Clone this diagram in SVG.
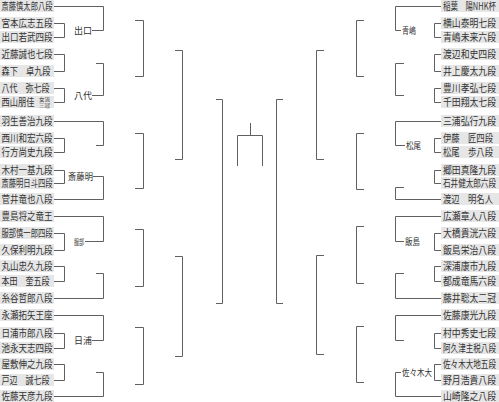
<svg xmlns="http://www.w3.org/2000/svg" width="499" height="402" viewBox="0 0 499 402">
<style>
.bx{fill:#e6e6e6}
.nm{font-family:"Noto Sans CJK JP","Noto Sans",sans-serif;font-size:10px;fill:#333}
.lb{font-family:"Noto Sans CJK JP","Noto Sans",sans-serif;font-size:9px;fill:#333}
.sm{font-family:"Noto Sans CJK JP",sans-serif;font-size:5px;fill:#333}
.cn path{fill:none;stroke:#606060;stroke-width:1}
</style>
<rect width="499" height="402" fill="#fff"/>
<g id="left-names">
<g id="L0"><rect class="bx" x="0" y="0" width="54" height="12"/><text class="nm" x="1.5" y="9.7" textLength="51" lengthAdjust="spacingAndGlyphs">斎藤慎太郎八段</text></g>
<g id="L1"><rect class="bx" x="0" y="17" width="54" height="12"/><text class="nm" x="1.5" y="26.7" textLength="51" lengthAdjust="spacingAndGlyphs">宮本広志五段</text></g>
<g id="L2"><rect class="bx" x="0" y="31" width="54" height="12"/><text class="nm" x="1.5" y="40.7" textLength="51" lengthAdjust="spacingAndGlyphs">出口若武四段</text></g>
<g id="L3"><rect class="bx" x="0" y="48" width="54" height="12"/><text class="nm" x="1.5" y="57.7" textLength="51" lengthAdjust="spacingAndGlyphs">近藤誠也七段</text></g>
<g id="L4"><rect class="bx" x="0" y="65" width="54" height="12"/><text class="nm" x="1.5" y="74.7" textLength="49" lengthAdjust="spacingAndGlyphs">森下　卓九段</text></g>
<g id="L5"><rect class="bx" x="0" y="82" width="54" height="12"/><text class="nm" x="1.5" y="91.7" textLength="48" lengthAdjust="spacingAndGlyphs">八代　弥七段</text></g>
<g id="L6"><rect class="bx" x="0" y="96" width="54" height="12"/><text class="nm" x="1.5" y="105.7" textLength="33" lengthAdjust="spacingAndGlyphs">西山朋佳</text><text class="sm" x="39" y="101.3" textLength="11" lengthAdjust="spacingAndGlyphs">女流</text><text class="sm" x="39" y="107.3" textLength="11" lengthAdjust="spacingAndGlyphs">三冠</text></g>
<g id="L7"><rect class="bx" x="0" y="115" width="54" height="12"/><text class="nm" x="1.5" y="124.7" textLength="51" lengthAdjust="spacingAndGlyphs">羽生善治九段</text></g>
<g id="L8"><rect class="bx" x="0" y="132" width="54" height="12"/><text class="nm" x="1.5" y="141.7" textLength="51" lengthAdjust="spacingAndGlyphs">西川和宏六段</text></g>
<g id="L9"><rect class="bx" x="0" y="146" width="54" height="12"/><text class="nm" x="1.5" y="155.7" textLength="51" lengthAdjust="spacingAndGlyphs">行方尚史九段</text></g>
<g id="L10"><rect class="bx" x="0" y="164" width="54" height="12"/><text class="nm" x="1.5" y="173.7" textLength="51" lengthAdjust="spacingAndGlyphs">木村一基九段</text></g>
<g id="L11"><rect class="bx" x="0" y="177" width="54" height="12"/><text class="nm" x="1.5" y="186.7" textLength="51" lengthAdjust="spacingAndGlyphs">斎藤明日斗四段</text></g>
<g id="L12"><rect class="bx" x="0" y="193" width="54" height="12"/><text class="nm" x="1.5" y="202.7" textLength="51" lengthAdjust="spacingAndGlyphs">菅井竜也八段</text></g>
<g id="L13"><rect class="bx" x="0" y="210" width="54" height="12"/><text class="nm" x="1.5" y="219.7" textLength="51" lengthAdjust="spacingAndGlyphs">豊島将之竜王</text></g>
<g id="L14"><rect class="bx" x="0" y="227" width="54" height="12"/><text class="nm" x="1.5" y="236.7" textLength="51" lengthAdjust="spacingAndGlyphs">服部慎一郎四段</text></g>
<g id="L15"><rect class="bx" x="0" y="244" width="54" height="12"/><text class="nm" x="1.5" y="253.7" textLength="51" lengthAdjust="spacingAndGlyphs">久保利明九段</text></g>
<g id="L16"><rect class="bx" x="0" y="260" width="54" height="12"/><text class="nm" x="1.5" y="269.7" textLength="51" lengthAdjust="spacingAndGlyphs">丸山忠久九段</text></g>
<g id="L17"><rect class="bx" x="0" y="275" width="54" height="12"/><text class="nm" x="1.5" y="284.7" textLength="48" lengthAdjust="spacingAndGlyphs">本田　奎五段</text></g>
<g id="L18"><rect class="bx" x="0" y="292" width="54" height="12"/><text class="nm" x="1.5" y="301.7" textLength="51" lengthAdjust="spacingAndGlyphs">糸谷哲郎八段</text></g>
<g id="L19"><rect class="bx" x="0" y="309" width="54" height="12"/><text class="nm" x="1.5" y="318.7" textLength="51" lengthAdjust="spacingAndGlyphs">永瀬拓矢王座</text></g>
<g id="L20"><rect class="bx" x="0" y="327" width="54" height="12"/><text class="nm" x="1.5" y="336.7" textLength="51" lengthAdjust="spacingAndGlyphs">日浦市郎八段</text></g>
<g id="L21"><rect class="bx" x="0" y="342" width="54" height="12"/><text class="nm" x="1.5" y="351.7" textLength="51" lengthAdjust="spacingAndGlyphs">池永天志四段</text></g>
<g id="L22"><rect class="bx" x="0" y="358" width="54" height="12"/><text class="nm" x="1.5" y="367.7" textLength="51" lengthAdjust="spacingAndGlyphs">屋敷伸之九段</text></g>
<g id="L23"><rect class="bx" x="0" y="374" width="54" height="12"/><text class="nm" x="1.5" y="383.7" textLength="48" lengthAdjust="spacingAndGlyphs">戸辺　誠七段</text></g>
<g id="L24"><rect class="bx" x="0" y="390" width="54" height="12"/><text class="nm" x="1.5" y="399.5" textLength="51" lengthAdjust="spacingAndGlyphs">佐藤天彦九段</text></g>
</g>
<g id="right-names">
<g id="R0"><rect class="bx" x="441" y="0" width="58" height="12"/><text class="nm" x="443" y="9.7" textLength="53" lengthAdjust="spacingAndGlyphs">稲葉　陽NHK杯</text></g>
<g id="R1"><rect class="bx" x="441" y="17" width="58" height="12"/><text class="nm" x="443" y="26.7" textLength="53" lengthAdjust="spacingAndGlyphs">横山泰明七段</text></g>
<g id="R2"><rect class="bx" x="441" y="31" width="58" height="12"/><text class="nm" x="443" y="40.7" textLength="53" lengthAdjust="spacingAndGlyphs">青嶋未来六段</text></g>
<g id="R3"><rect class="bx" x="441" y="48" width="58" height="12"/><text class="nm" x="443" y="57.7" textLength="53" lengthAdjust="spacingAndGlyphs">渡辺和史四段</text></g>
<g id="R4"><rect class="bx" x="441" y="65" width="58" height="12"/><text class="nm" x="443" y="74.7" textLength="53" lengthAdjust="spacingAndGlyphs">井上慶太九段</text></g>
<g id="R5"><rect class="bx" x="441" y="82" width="58" height="12"/><text class="nm" x="443" y="91.7" textLength="53" lengthAdjust="spacingAndGlyphs">豊川孝弘七段</text></g>
<g id="R6"><rect class="bx" x="441" y="96" width="58" height="12"/><text class="nm" x="443" y="105.7" textLength="53" lengthAdjust="spacingAndGlyphs">千田翔太七段</text></g>
<g id="R7"><rect class="bx" x="441" y="115" width="58" height="12"/><text class="nm" x="443" y="124.7" textLength="53" lengthAdjust="spacingAndGlyphs">三浦弘行九段</text></g>
<g id="R8"><rect class="bx" x="441" y="132" width="58" height="12"/><text class="nm" x="443" y="141.7" textLength="50" lengthAdjust="spacingAndGlyphs">伊藤　匠四段</text></g>
<g id="R9"><rect class="bx" x="441" y="146" width="58" height="12"/><text class="nm" x="443" y="155.7" textLength="50" lengthAdjust="spacingAndGlyphs">松尾　歩八段</text></g>
<g id="R10"><rect class="bx" x="441" y="164" width="58" height="12"/><text class="nm" x="443" y="173.7" textLength="53" lengthAdjust="spacingAndGlyphs">郷田真隆九段</text></g>
<g id="R11"><rect class="bx" x="441" y="177" width="58" height="12"/><text class="nm" x="443" y="186.7" textLength="53" lengthAdjust="spacingAndGlyphs">石井健太郎六段</text></g>
<g id="R12"><rect class="bx" x="441" y="193" width="58" height="12"/><text class="nm" x="443" y="202.7" textLength="50" lengthAdjust="spacingAndGlyphs">渡辺　明名人</text></g>
<g id="R13"><rect class="bx" x="441" y="210" width="58" height="12"/><text class="nm" x="443" y="219.7" textLength="53" lengthAdjust="spacingAndGlyphs">広瀬章人八段</text></g>
<g id="R14"><rect class="bx" x="441" y="227" width="58" height="12"/><text class="nm" x="443" y="236.7" textLength="53" lengthAdjust="spacingAndGlyphs">大橋貴洸六段</text></g>
<g id="R15"><rect class="bx" x="441" y="244" width="58" height="12"/><text class="nm" x="443" y="253.7" textLength="53" lengthAdjust="spacingAndGlyphs">飯島栄治八段</text></g>
<g id="R16"><rect class="bx" x="441" y="260" width="58" height="12"/><text class="nm" x="443" y="269.7" textLength="53" lengthAdjust="spacingAndGlyphs">深浦康市九段</text></g>
<g id="R17"><rect class="bx" x="441" y="275" width="58" height="12"/><text class="nm" x="443" y="284.7" textLength="53" lengthAdjust="spacingAndGlyphs">都成竜馬六段</text></g>
<g id="R18"><rect class="bx" x="441" y="292" width="58" height="12"/><text class="nm" x="443" y="301.7" textLength="53" lengthAdjust="spacingAndGlyphs">藤井聡太二冠</text></g>
<g id="R19"><rect class="bx" x="441" y="309" width="58" height="12"/><text class="nm" x="443" y="318.7" textLength="53" lengthAdjust="spacingAndGlyphs">佐藤康光九段</text></g>
<g id="R20"><rect class="bx" x="441" y="327" width="58" height="12"/><text class="nm" x="443" y="336.7" textLength="53" lengthAdjust="spacingAndGlyphs">村中秀史七段</text></g>
<g id="R21"><rect class="bx" x="441" y="342" width="58" height="12"/><text class="nm" x="443" y="351.7" textLength="53" lengthAdjust="spacingAndGlyphs">阿久津主税八段</text></g>
<g id="R22"><rect class="bx" x="441" y="358" width="58" height="12"/><text class="nm" x="443" y="367.7" textLength="53" lengthAdjust="spacingAndGlyphs">佐々木大地五段</text></g>
<g id="R23"><rect class="bx" x="441" y="374" width="58" height="12"/><text class="nm" x="443" y="383.7" textLength="53" lengthAdjust="spacingAndGlyphs">野月浩貴八段</text></g>
<g id="R24"><rect class="bx" x="441" y="390" width="58" height="12"/><text class="nm" x="443" y="399.5" textLength="53" lengthAdjust="spacingAndGlyphs">山崎隆之八段</text></g>
</g>
<g id="labels">
<g id="lab-deguchi"><text class="lb" x="74" y="34" textLength="18" lengthAdjust="spacingAndGlyphs">出口</text></g>
<g id="lab-yashiro"><text class="lb" x="74" y="98.5" textLength="18" lengthAdjust="spacingAndGlyphs">八代</text></g>
<g id="lab-saitoa"><text class="lb" x="68" y="180" textLength="25" lengthAdjust="spacingAndGlyphs">斎藤明</text></g>
<g id="lab-hattori"><text class="lb" x="74" y="244.5" textLength="10" lengthAdjust="spacingAndGlyphs" style="font-size:7.5px">服部</text></g>
<g id="lab-hiura"><text class="lb" x="74" y="344" textLength="18" lengthAdjust="spacingAndGlyphs">日浦</text></g>
<g id="lab-aoshima"><text class="lb" x="402" y="34" textLength="14" lengthAdjust="spacingAndGlyphs">青嶋</text></g>
<g id="lab-matsuo"><text class="lb" x="406" y="149" textLength="15" lengthAdjust="spacingAndGlyphs">松尾</text></g>
<g id="lab-iijima"><text class="lb" x="405" y="245" textLength="15" lengthAdjust="spacingAndGlyphs">飯島</text></g>
<g id="lab-sasaki"><text class="lb" x="402" y="376" textLength="30" lengthAdjust="spacingAndGlyphs">佐々木大</text></g>
</g>
<g id="connectors" class="cn">
<path d="M54 23.5H64.5V37.5H54M54 54.5H64.5V71.5H54M54 88.5H64.5V102.5H54M54 138.5H64.5V152.5H54M54 170.5H64.5V183.5H54M54 233.5H64.5V250.5H54M54 266.5H64.5V281.5H54M54 333.5H64.5V348.5H54M54 364.5H64.5V380.5H54"/>
<path d="M54 6.5H103.5V30.5H92M96 63.5H103.5V95.5H92M54 121.5H103.5V145.5H96M93 176.5H103.5V199.5H54M54 216.5H103.5V241.5H85M96 273.5H103.5V298.5H54M54 315.5H103.5V340.5H92M96 372.5H103.5V396.5H54"/>
<path d="M135 20.5H143.5V76.5H135M135 133.5H143.5V188.5H135M135 229.5H143.5V286.5H135M135 327.5H143.5V384.5H135"/>
<path d="M175 50.5H182.5V159.5H175M175 256.5H182.5V356.5H175"/>
<path d="M216 99.5H222.5V303.5H216"/>
<path d="M250.5 123V135.5M237.5 166V135.5H262.5V166"/>
<path d="M283 99.5H276.5V303.5H283"/>
<path d="M324 50.5H316.5V159.5H324M324 255.5H316.5V354.5H324"/>
<path d="M364 20.5H356.5V76.5H364M364 133.5H356.5V189.5H364M364 226.5H356.5V283.5H364M364 326.5H356.5V382.5H364"/>
<path d="M441 6.5H395.5V30.5H401M404 63.5H395.5V95.5H404M441 121.5H395.5V145.5H405M404 187.5H395.5V199.5H441M441 216.5H395.5V241.5H404M404 273.5H395.5V298.5H441M441 315.5H395.5V340.5H404M401 372.5H395.5V396.5H441"/>
<path d="M441 23.5H434.5V37.5H441M441 54.5H434.5V71.5H441M441 88.5H434.5V102.5H441M441 138.5H434.5V152.5H441M441 170.5H434.5V183.5H441M441 233.5H434.5V250.5H441M441 266.5H434.5V281.5H441M441 333.5H434.5V348.5H441M441 364.5H434.5V380.5H441"/>
</g>
</svg>
